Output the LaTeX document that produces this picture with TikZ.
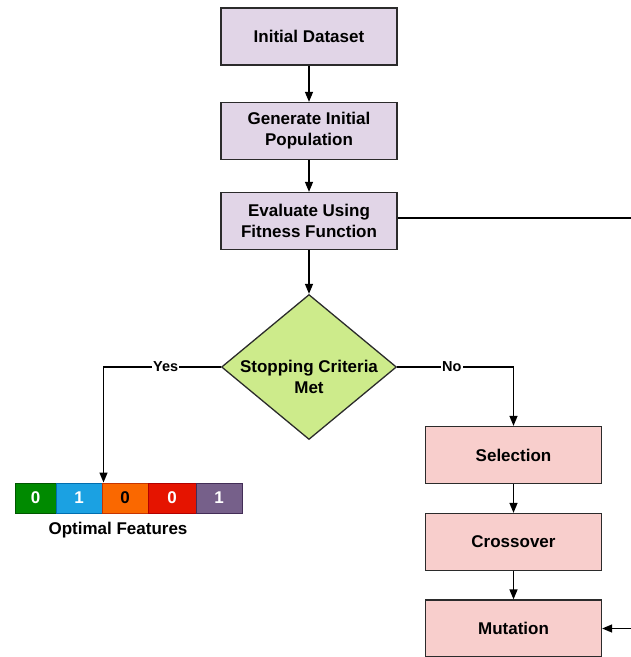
\documentclass[tikz,border=0pt]{standalone}
\usepackage{fontspec}
\setmainfont{Liberation Sans}
\usepackage{tikz}
\usepackage{xcolor}
\definecolor{lilac}{HTML}{E1D5E7}
\definecolor{salmon}{HTML}{F8CECC}
\definecolor{lime}{HTML}{CDEB8B}
\definecolor{edge}{HTML}{2B2B2B}
\definecolor{bitgreen}{HTML}{008A00}
\definecolor{bitgreenline}{HTML}{005700}
\definecolor{bitblue}{HTML}{1BA1E2}
\definecolor{bitblueline}{HTML}{006EAF}
\definecolor{bitorange}{HTML}{FA6800}
\definecolor{bitorangeline}{HTML}{C73500}
\definecolor{bitred}{HTML}{E51400}
\definecolor{bitredline}{HTML}{B20000}
\definecolor{bitpurple}{HTML}{76608A}
\definecolor{bitpurpleline}{HTML}{432D57}
\usetikzlibrary{shapes,arrows.meta}

\tikzset{
  stage/.style={draw=edge, line width=1.3pt, minimum width=176pt, minimum height=57pt,
    inner sep=0pt, align=center, font=\fontsize{17}{21}\selectfont\bfseries},
  purplebox/.style={stage, fill=lilac},
  redbox/.style={stage, fill=salmon},
  decision/.style={diamond, draw=edge, fill=lime, line width=1.3pt,
    minimum width=175pt, minimum height=145pt, inner sep=0pt},
  bit/.style={minimum height=30pt, inner sep=0pt, line width=1pt,
    font=\fontsize{17}{20}\selectfont\bfseries},
  flow/.style={line width=1.3pt, -{Triangle[length=10pt,width=8pt]}},
  wire/.style={line width=1.3pt},
  tag/.style={fill=white, inner sep=1pt, font=\fontsize{14.5}{17}\selectfont\bfseries},
}

\begin{document}
\begin{tikzpicture}[x=1pt, y=-1pt]
\useasboundingbox (0,0) rectangle (631,657);

\node[purplebox] (data) at (309,36.5) {Initial Dataset};
\node[purplebox] (init) at (309,131) {Generate Initial\\Population};
\node[purplebox] (eval) at (309,221) {Evaluate Using\\Fitness Function};
\node[decision] (crit) at (309,367) {};
\node[align=center, font=\fontsize{17}{21}\selectfont\bfseries] (critlbl) at (309,377) {Stopping Criteria\\Met};

\node[redbox] (sel) at (513.5,455) {Selection};
\node[redbox] (cross) at (513.5,542) {Crossover};
\node[redbox] (mut) at (513.5,628.5) {Mutation};

\node[bit, fill=bitgreen, draw=bitgreenline, minimum width=41pt, text=white] (b1) at (35.5,498) {0};
\node[bit, fill=bitblue, draw=bitblueline, minimum width=46pt, text=white] (b2) at (79,498) {1};
\node[bit, fill=bitorange, draw=bitorangeline, minimum width=46pt, text=black] (b3) at (125,498) {0};
\node[bit, fill=bitred, draw=bitredline, minimum width=48pt, text=white] (b4) at (172,498) {0};
\node[bit, fill=bitpurple, draw=bitpurpleline, minimum width=46pt, text=white] (b5) at (219,498) {1};
\node[font=\fontsize{17}{21}\selectfont\bfseries] (feat) at (118,530) {Optimal Features};

\coordinate (rimtop) at (631,218);
\coordinate (rimbot) at (631,628.5);

\draw[flow] (data) -- (init);
\draw[flow] (init) -- (eval);
\draw[flow] (eval) -- (crit);
\draw[flow] (crit.west) -| node[tag, pos=0.235] {Yes} ([xshift=2pt]b3.north west);
\draw[flow] (crit.east) -| node[tag, pos=0.235] {No} (sel.north);
\draw[flow] (sel) -- (cross);
\draw[flow] (cross) -- (mut);
\draw[wire] (eval.east |- rimtop) -- (rimtop);
\draw[flow] (rimbot) -- (mut.east);
\end{tikzpicture}
\end{document}
